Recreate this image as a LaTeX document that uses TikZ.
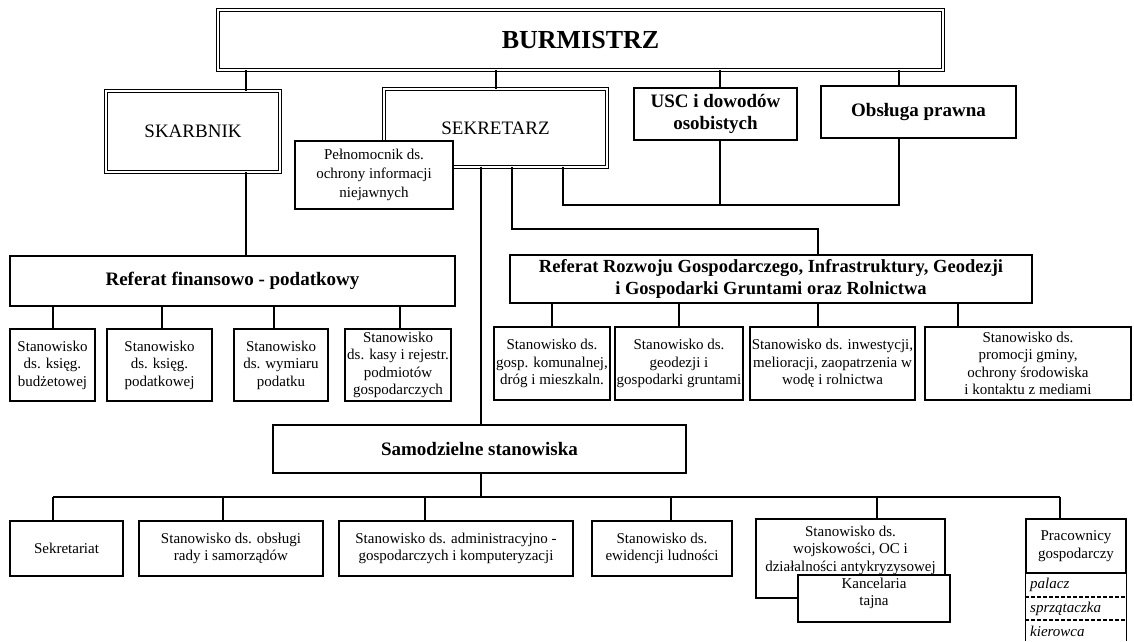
\documentclass[tikz,border=0pt]{standalone}
\usepackage{fontspec}
\setmainfont{Liberation Serif}
\newcommand{\stfont}{\fontsize{15}{17.5}\selectfont}
\newcommand{\hdfont}{\fontsize{19}{21.5}\selectfont\bfseries}
\begin{document}
\begin{tikzpicture}[x=1pt,y=-1pt,
  box/.style={draw,line width=1.2pt,fill=white,inner sep=1pt,align=center,font=\stfont},
  thickbox/.style={draw,line width=2.6pt,fill=white,inner sep=1pt,align=center,font=\hdfont},
  dblbox/.style={draw,line width=0.9pt,double,double distance=1.8pt,fill=white,inner sep=1pt,align=center},
  heavy/.style={line width=2.7pt},
  medium/.style={line width=1.6pt},
  light/.style={line width=1.1pt},
  sep/.style={line width=1.1pt,dash pattern=on 4pt off 2pt}]
\useasboundingbox (0,0) rectangle (1134,641);
% ---------- top level
\node[dblbox,minimum width=725pt,minimum height=60pt,font=\fontsize{26}{30}\selectfont\bfseries] (burm) at (580.5,40) {BURMISTRZ};
\node[dblbox,minimum width=174pt,minimum height=81pt,font=\fontsize{19}{22}\selectfont] (skarb) at (193,131.5) {SKARBNIK};
\node[dblbox,minimum width=223pt,minimum height=78pt,font=\fontsize{19}{22}\selectfont] (sekr) at (495.5,128) {SEKRETARZ};
\node[thickbox,minimum width=163pt,minimum height=52pt] (usc) at (715.5,114) {USC i dowodów\\osobistych};
\node[thickbox,minimum width=195pt,minimum height=52pt] (obs) at (918.5,112) {Obsługa prawna};
\node[box,minimum width=158pt,minimum height=68pt,font=\fontsize{15}{19}\selectfont] (peln) at (374,175) {Pełnomocnik ds.\\ochrony informacji\\niejawnych};
% ---------- connectors from BURMISTRZ
\draw[heavy] (burm.south -| 246,0) -- (skarb.north -| 246,0);
\draw[heavy] (burm.south -| 496,0) -- (sekr.north -| 496,0);
\draw[heavy] (burm.south -| 720,0) -- (usc.north -| 720,0);
\draw[heavy] (burm.south -| 899,0) -- (obs.north -| 899,0);
% ---------- thin link SEKRETARZ - USC - Obsluga
\coordinate (dlow) at (563,205);
\draw[light] (sekr.south -| dlow) -- (dlow) -- (dlow -| 899,0) -- (obs.south -| 899,0);
\draw[light] (usc.south -| 720,0) -- (dlow -| 720,0);
% ---------- referaty
\node[thickbox,minimum width=445pt,minimum height=50pt] (reffin) at (232.5,281) {Referat finansowo - podatkowy};
\node[thickbox,minimum width=522pt,minimum height=48pt,font=\fontsize{18.5}{22}\selectfont\bfseries] (refroz) at (771,279) {Referat Rozwoju Gospodarczego, Infrastruktury, Geodezji\\i Gospodarki Gruntami oraz Rolnictwa};
\draw[heavy] (skarb.south -| 246,0) -- (reffin.north -| 246,0);
\coordinate (cbend) at (512,229);
\draw[heavy] (sekr.south -| cbend) -- (cbend) -- (cbend -| 818,0) -- (refroz.north -| 818,0);
% ---------- finance posts
\node[box,minimum width=85pt,minimum height=72pt] (f1) at (52.5,365) {Stanowisko\\ds. księg.\\budżetowej};
\node[box,minimum width=105pt,minimum height=72pt] (f2) at (159.5,365) {Stanowisko\\ds. księg.\\podatkowej};
\node[box,minimum width=94pt,minimum height=72pt] (f3) at (281,365) {Stanowisko\\ds. wymiaru\\podatku};
\node[box,minimum width=106pt,minimum height=72pt] (f4) at (398,365) {Stanowisko\\ds. kasy i rejestr.\\podmiotów\\gospodarczych};
\draw[light] (reffin.south -| 53,0) -- (f1.north -| 53,0);
\draw[light] (reffin.south -| 162,0) -- (f2.north -| 162,0);
\draw[light] (reffin.south -| 274,0) -- (f3.north -| 274,0);
\draw[light] (reffin.south -| 400,0) -- (f4.north -| 400,0);
% ---------- development posts
\node[box,minimum width=116pt,minimum height=73pt] (r1) at (552,363.5) {Stanowisko ds.\\gosp. komunalnej,\\dróg i mieszkaln.};
\node[box,minimum width=128pt,minimum height=73pt] (r2) at (679,363.5) {Stanowisko ds.\\geodezji i\\gospodarki gruntami};
\node[box,minimum width=165pt,minimum height=73pt] (r3) at (832.5,363.5) {Stanowisko ds. inwestycji,\\melioracji, zaopatrzenia w\\wodę i rolnictwa};
\node[box,minimum width=206pt,minimum height=73pt] (r4) at (1028,363.5) {Stanowisko ds.\\promocji gminy,\\ochrony środowiska\\i kontaktu z mediami};
\draw[light] (refroz.south -| 552,0) -- (r1.north -| 552,0);
\draw[light] (refroz.south -| 679,0) -- (r2.north -| 679,0);
\draw[light] (refroz.south -| 818,0) -- (r3.north -| 818,0);
\draw[light] (refroz.south -| 958,0) -- (r4.north -| 958,0);
% ---------- samodzielne
\node[thickbox,minimum width=413pt,minimum height=48pt] (samodz) at (479.5,449) {Samodzielne stanowiska};
\draw[heavy] (sekr.south -| 481,0) -- (samodz.north -| 481,0);
\coordinate (bus) at (481,497);
\draw[medium] (samodz.south -| bus) -- (bus);
\draw[medium] (bus -| 53,0) -- (bus -| 1060,0);
% ---------- bottom posts
\node[box,minimum width=113pt,minimum height=55pt] (sek) at (66.5,548.5) {Sekretariat};
\node[box,minimum width=184pt,minimum height=55pt] (obsr) at (231,548.5) {Stanowisko ds. obsługi\\rady i samorządów};
\node[box,minimum width=234pt,minimum height=55pt] (admin) at (456,548.5) {Stanowisko ds. administracyjno -\\gospodarczych i komputeryzacji};
\node[box,minimum width=140pt,minimum height=55pt] (ewid) at (662,548.5) {Stanowisko ds.\\ewidencji ludności};
\node[box,minimum width=189pt,minimum height=79pt] (wojsk) at (850.5,558.5) {};
\node[font=\stfont,align=center,anchor=north,inner sep=0pt] (wojskT) at ([yshift=-7pt]wojsk.north) {Stanowisko ds.\\wojskowości, OC i\\działalności antykryzysowej};
\node[box,minimum width=152pt,minimum height=47pt] (kanc) at (874,598.5) {};
\node[font=\stfont,align=center,anchor=north,inner sep=0pt] (kancT) at ([yshift=-3pt]kanc.north) {Kancelaria\\tajna};
\node[box,minimum width=100pt,minimum height=54pt] (pracT) at (1076,546) {Pracownicy\\gospodarczy};
\draw[light] (pracT.south west) -- (pracT.south west |- 0,641);
\draw[light] (pracT.south east) -- (pracT.south east |- 0,641);
\draw[sep] (pracT.south west |- 0,597) -- (pracT.south east |- 0,597);
\draw[sep] (pracT.south west |- 0,620) -- (pracT.south east |- 0,620);
\node[anchor=west,font=\stfont\itshape,inner sep=0pt] (pal) at (1030,585) {palacz};
\node[anchor=west,font=\stfont\itshape,inner sep=0pt] (spr) at (1030,608.5) {sprzątaczka};
\node[anchor=west,font=\stfont\itshape,inner sep=0pt] (kier) at (1030,631) {kierowca};
\draw[light] (bus -| 53,0) -- (sek.north -| 53,0);
\draw[light] (bus -| 223,0) -- (obsr.north -| 223,0);
\draw[light] (bus -| 425,0) -- (admin.north -| 425,0);
\draw[light] (bus -| 671,0) -- (ewid.north -| 671,0);
\draw[light] (bus -| 877,0) -- (wojsk.north -| 877,0);
\draw[light] (bus -| 1060,0) -- (pracT.north -| 1060,0);
\end{tikzpicture}
\end{document}
